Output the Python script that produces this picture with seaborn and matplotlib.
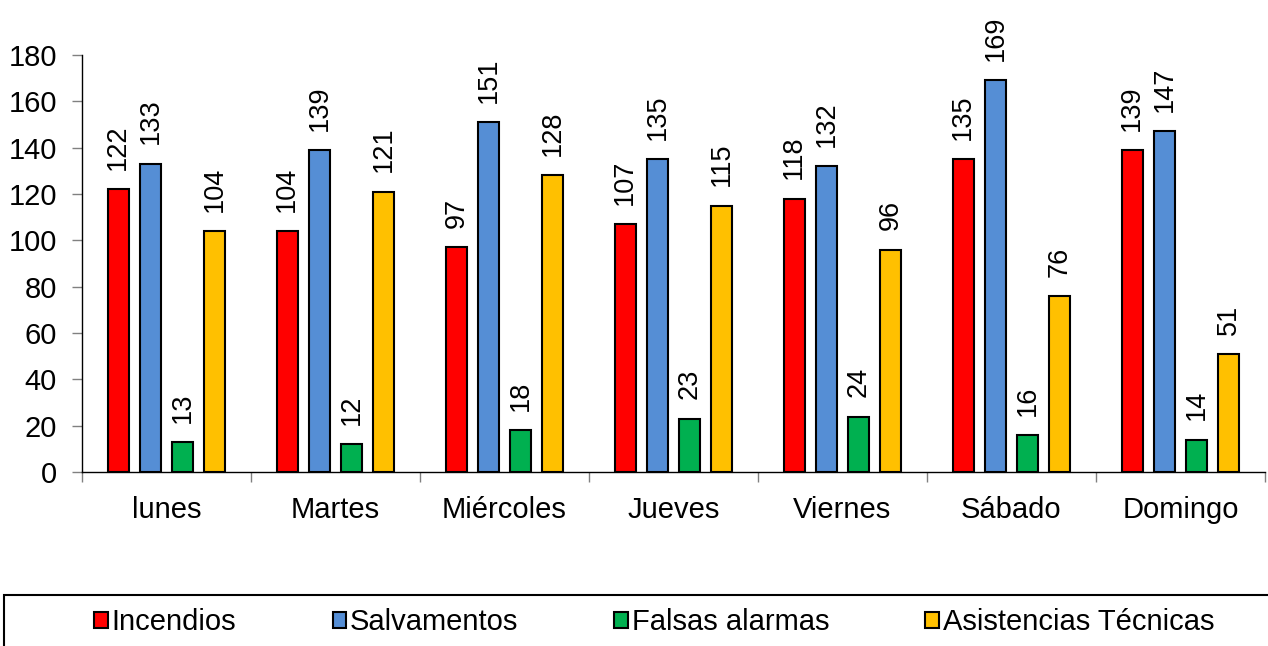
import pandas as pd
import matplotlib.pyplot as plt
from matplotlib.patches import Patch, Rectangle
import seaborn as sns

# Data
days = ["lunes", "Martes", "Miércoles", "Jueves", "Viernes", "Sábado", "Domingo"]
series = ["Incendios", "Salvamentos", "Falsas alarmas", "Asistencias Técnicas"]
incendios = [122, 104, 97, 107, 118, 135, 139]
salvamentos = [133, 139, 151, 135, 132, 169, 147]
falsas_alarmas = [13, 12, 18, 23, 24, 16, 14]
asistencias = [104, 121, 128, 115, 96, 76, 51]
colors = ["#FF0000", "#558ED5", "#00B050", "#FFC000"]

values = [incendios, salvamentos, falsas_alarmas, asistencias]
df = pd.DataFrame([
    {"dia": d, "tipo": s, "valor": v}
    for s, vals in zip(series, values)
    for d, v in zip(days, vals)
])

sns.set_style("white")
plt.rcParams["font.family"] = ["Liberation Sans", "DejaVu Sans"]
plt.rcParams["text.color"] = "black"
plt.rcParams["xtick.color"] = "black"
plt.rcParams["ytick.color"] = "black"
FS = 21        # horizontal text
FS_LABEL = 19.5  # rotated value labels

fig = plt.figure(figsize=(12.68, 6.46), dpi=100)
ax = fig.add_axes([0.0647, 0.269, 0.9329, 0.646])

sns.barplot(data=df, x="dia", y="valor", hue="tipo", order=days, hue_order=series,
            palette=colors, saturation=1, width=0.76, gap=0.35, edgecolor="black",
            linewidth=1.5, legend=False, ax=ax)

for cont in ax.containers:
    ax.bar_label(cont, rotation=90, padding=14, fontsize=FS_LABEL, color="black")

ax.set_ylim(0, 180)
ax.set_xlim(-0.5, len(days) - 0.5)
ax.set_yticks(range(0, 181, 20))
ax.set_xlabel("")
ax.set_ylabel("")

ax.tick_params(axis="y", labelsize=FS, length=7, width=1, color="#808080",
               labelcolor="black", direction="out", left=True, pad=11)
ax.tick_params(axis="x", which="major", labelsize=FS, length=0, pad=17,
               labelcolor="black")
ax.set_xticks([i - 0.5 for i in range(len(days) + 1)], minor=True)
ax.tick_params(axis="x", which="minor", length=7, width=1, color="#808080",
               direction="out", bottom=True)

for side in ["top", "right"]:
    ax.spines[side].set_visible(False)
for side in ["left", "bottom"]:
    ax.spines[side].set_color("black")
    ax.spines[side].set_linewidth(1)

# Legend box at the bottom
fig.patches.append(Rectangle((0.003, -0.05), 1.1, 0.05 + 0.079, transform=fig.transFigure,
                             fill=False, edgecolor="black", linewidth=1.5))
handles = [Patch(facecolor=c, edgecolor="black", linewidth=1.5) for c in colors]
fig.legend(handles, series, loc="center", bbox_to_anchor=(0.516, 0.037), ncol=4,
           frameon=False, fontsize=FS, handlelength=0.47, handleheight=0.47,
           handletextpad=0.12, columnspacing=3.3, labelcolor="black")

fig.savefig("out.png", dpi=100)
